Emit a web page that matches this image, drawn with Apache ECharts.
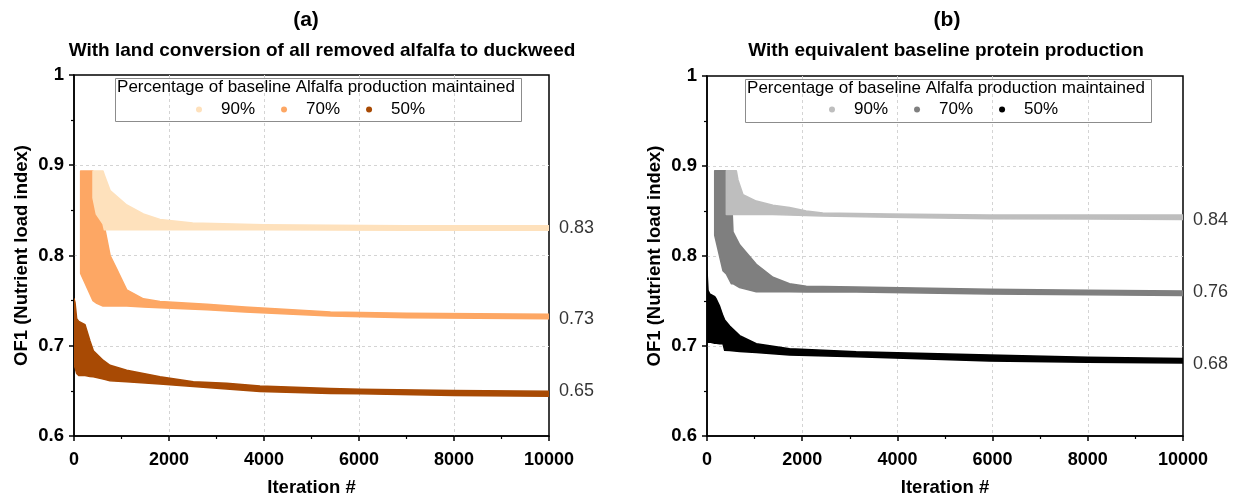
<!DOCTYPE html>
<html><head><meta charset="utf-8">
<script src="https://cdn.jsdelivr.net/npm/echarts@6/dist/echarts.min.js"></script>
<style>html,body{margin:0;padding:0;background:#fff}#c{width:1236px;height:502px}</style>
</head><body><div id="c"></div><script>
// ---------- data ----------
const legendLabels = ['90%', '70%', '50%'];
const xTickValues = [0, 2000, 4000, 6000, 8000, 10000];
const yTickValues = [0.6, 0.7, 0.8, 0.9, 1];

// Panel (a): band envelopes (iteration, upper, lower)
const itA90 = [400, 470, 610, 640, 760, 1110, 1460, 1810, 2500, 4000, 5400, 7000, 10000];
const hiA90 = [0.8935, 0.8935, 0.8935, 0.889, 0.872, 0.856, 0.846, 0.840, 0.836, 0.834, 0.8335, 0.833, 0.833];
const loA90 = [0.864, 0.846, 0.835, 0.8285, 0.8285, 0.8285, 0.8285, 0.8285, 0.8285, 0.8285, 0.8283, 0.828, 0.828];

const itA70 = [140, 400, 480, 610, 760, 900, 1110, 1460, 1810, 2800, 3600, 5400, 7000, 10000];
const hiA70 = [0.8935, 0.8935, 0.87, 0.84, 0.80, 0.785, 0.762, 0.752, 0.749, 0.746, 0.743, 0.7375, 0.736, 0.735];
const loA70 = [0.78, 0.75, 0.747, 0.744, 0.744, 0.744, 0.744, 0.743, 0.742, 0.740, 0.7375, 0.733, 0.731, 0.730];

const itA50 = [0, 21, 56, 100, 232, 337, 407, 617, 758, 1109, 1810, 2512, 3214, 3916, 5400, 6021, 8000, 10000];
const hiA50 = [0.752, 0.748, 0.730, 0.727, 0.7234, 0.7054, 0.6945, 0.6837, 0.6783, 0.6728, 0.6656, 0.6602, 0.6584, 0.6555, 0.6525, 0.6519, 0.6505, 0.6495];
const loA50 = [0.678, 0.676, 0.6692, 0.667, 0.667, 0.666, 0.6656, 0.663, 0.6613, 0.6602, 0.6577, 0.6548, 0.652, 0.6494, 0.647, 0.6469, 0.645, 0.644];

// Panel (b)
const itB90 = [406, 616, 651, 756, 1035, 1385, 1734, 2084, 2433, 3832, 5930, 8000, 10000];
const hiB90 = [0.8946, 0.8946, 0.8845, 0.868, 0.861, 0.8564, 0.854, 0.850, 0.8477, 0.8467, 0.8455, 0.8455, 0.8455];
const loB90 = [0.846, 0.846, 0.846, 0.846, 0.846, 0.846, 0.8455, 0.845, 0.8445, 0.843, 0.8415, 0.841, 0.8405];

const itB70 = [162, 336, 406, 511, 530, 546, 686, 1035, 1385, 1734, 2084, 3133, 5930, 8000, 10000];
const hiB70 = [0.8946, 0.8946, 0.8946, 0.8946, 0.8467, 0.8269, 0.8124, 0.7908, 0.7764, 0.7692, 0.7663, 0.7656, 0.763, 0.762, 0.761];
const loB70 = [0.823, 0.7836, 0.78, 0.7692, 0.7692, 0.7692, 0.765, 0.7602, 0.7602, 0.7602, 0.760, 0.760, 0.7577, 0.757, 0.756];

const itB50 = [0, 21, 56, 162, 196, 266, 336, 371, 476, 686, 1035, 1734, 3133, 5930, 8000, 10000];
const hiB50 = [0.7836, 0.762, 0.758, 0.7548, 0.752, 0.744, 0.7332, 0.729, 0.7223, 0.7115, 0.7025, 0.697, 0.6935, 0.690, 0.6875, 0.686];
const loB50 = [0.7115, 0.7043, 0.7043, 0.703, 0.703, 0.7025, 0.7025, 0.6953, 0.695, 0.694, 0.6928, 0.690, 0.688, 0.6834, 0.682, 0.681];

// final values written at the right of each panel
const finalA = [0.83, 0.73, 0.65];
const finalB = [0.84, 0.76, 0.68];

const colorsA = ['#FEE1BC', '#FDA764', '#A84A04'];
const colorsB = ['#BEBEBE', '#7F7F7F', '#000000'];

// ---------- chart ----------
const FONT = 'Liberation Sans, Arial, sans-serif';
const chart = echarts.init(document.getElementById('c'), null, {renderer: 'canvas'});

function band(name, g, color, it, hi, lo, z) {
  return {
    type: 'custom', name: name, xAxisIndex: g, yAxisIndex: g, z: z,
    clip: true, silent: true,
    itemStyle: {color: color},
    data: it.map((x, i) => [x, lo[i], hi[i]]),
    encode: {x: 0, y: [1, 2]},
    renderItem: function (params, api) {
      if (params.dataIndex !== 0) return null;
      const pts = [];
      for (let i = 0; i < it.length; i++) pts.push(api.coord([it[i], hi[i]]));
      for (let i = it.length - 1; i >= 0; i--) pts.push(api.coord([it[i], lo[i]]));
      return {
        type: 'polygon',
        shape: {points: pts},
        style: {fill: color, stroke: color, lineWidth: 1.5, lineJoin: 'round'}
      };
    }
  };
}

function endLabels(name, g, vals) {
  return {
    type: 'scatter', name: name, xAxisIndex: g, yAxisIndex: g, symbolSize: 0, silent: true, z: 10,
    data: vals.map(v => [xTickValues[xTickValues.length - 1], v]),
    label: {show: true, position: 'right', distance: 10, fontFamily: FONT, fontSize: 18, color: '#000',
      formatter: p => p.value[1].toFixed(2)}
  };
}

const gridsPos = [
  {left: 74, top: 75, width: 475, height: 369},
  {left: 707, top: 76, width: 476, height: 369}
];

const gridLineStyle = {color: '#d4d4d4', type: [3, 3], width: 1};

function xAx(g) {
  return {
    gridIndex: g, type: 'value', min: xTickValues[0], max: xTickValues[xTickValues.length - 1], interval: 2000,
    name: 'Iteration #', nameLocation: 'middle', nameGap: 42,
    nameTextStyle: {fontFamily: FONT, fontSize: 18.5, fontWeight: 'bold', color: '#000'},
    axisLine: {lineStyle: {color: '#000', width: 1.5}},
    axisTick: {show: true, length: 5, lineStyle: {color: '#000', width: 1.5}},
    minorTick: {show: true, splitNumber: 2, length: 3, lineStyle: {color: '#000', width: 1.2}},
    axisLabel: {fontFamily: FONT, fontSize: 18, fontWeight: 'bold', color: '#000', margin: 15,
      formatter: v => String(v)},
    splitLine: {show: true, showMinLine: false, showMaxLine: false, lineStyle: gridLineStyle}
  };
}
function yAx(g) {
  return {
    gridIndex: g, type: 'value', min: yTickValues[0], max: yTickValues[yTickValues.length - 1], interval: 0.1,
    name: 'OF1 (Nutrient load index)', nameLocation: 'middle', nameGap: 43,
    nameTextStyle: {fontFamily: FONT, fontSize: 18.5, fontWeight: 'bold', color: '#000'},
    axisLine: {show: true, lineStyle: {color: '#000', width: 1.5}},
    axisTick: {show: true, length: 5, lineStyle: {color: '#000', width: 1.5}},
    minorTick: {show: true, splitNumber: 2, length: 3, lineStyle: {color: '#000', width: 1.2}},
    axisLabel: {fontFamily: FONT, fontSize: 18.5, fontWeight: 'bold', color: '#000', margin: 10,
      formatter: v => String(Math.round(v * 10) / 10)},
    splitLine: {show: true, showMinLine: false, showMaxLine: false, lineStyle: gridLineStyle}
  };
}

function legendFor(prefix, left, colors) {
  return {
    left: left, top: 96, orient: 'horizontal', icon: 'circle', itemWidth: 6, itemHeight: 6, itemGap: 26,
    selectedMode: false,
    data: legendLabels.map((l, i) => ({name: prefix + l, itemStyle: {color: colors[i]}})),
    formatter: n => n.split(':')[1],
    textStyle: {fontFamily: FONT, fontSize: 17, color: '#000', padding: [0, 0, 0, 14]}
  };
}

const titleStyle = {fontFamily: FONT, fontWeight: 'bold', color: '#000'};
const legendTitleStyle = {fontFamily: FONT, fontSize: 17, fontWeight: 'normal', color: '#000'};

const option = {
  backgroundColor: '#fff',
  animation: false,
  title: [
    {text: '(a)', left: 306, top: 10, padding: 0, textAlign: 'center', textStyle: Object.assign({fontSize: 21}, titleStyle)},
    {text: 'With land conversion of all removed alfalfa to duckweed', left: 322, top: 41, padding: 0, textAlign: 'center',
      textStyle: Object.assign({fontSize: 19}, titleStyle)},
    {text: '(b)', left: 947, top: 10, padding: 0, textAlign: 'center', textStyle: Object.assign({fontSize: 21}, titleStyle)},
    {text: 'With equivalent baseline protein production', left: 946, top: 41, padding: 0, textAlign: 'center',
      textStyle: Object.assign({fontSize: 19}, titleStyle)},
    {text: 'Percentage of baseline Alfalfa production maintained', left: 316, top: 79, padding: 0, textAlign: 'center',
      textStyle: legendTitleStyle},
    {text: 'Percentage of baseline Alfalfa production maintained', left: 946, top: 80, padding: 0, textAlign: 'center',
      textStyle: legendTitleStyle}
  ],
  graphic: [
    {type: 'rect', left: 113, top: 76, shape: {width: 406, height: 43}, z: 1, silent: true,
      style: {fill: 'none', stroke: '#8c8c8c', lineWidth: 1}},
    {type: 'rect', left: 743, top: 77, shape: {width: 406, height: 43}, z: 1, silent: true,
      style: {fill: 'none', stroke: '#8c8c8c', lineWidth: 1}}
  ],
  legend: [legendFor('a:', 191, colorsA), legendFor('b:', 824, colorsB)],
  grid: gridsPos.map(p => Object.assign({show: true, borderColor: '#000', borderWidth: 1.5, containLabel: false}, p)),
  xAxis: [xAx(0), xAx(1)],
  yAxis: [yAx(0), yAx(1)],
  series: [
    band('a:90%', 0, colorsA[0], itA90, hiA90, loA90, 4),
    band('a:70%', 0, colorsA[1], itA70, hiA70, loA70, 3),
    band('a:50%', 0, colorsA[2], itA50, hiA50, loA50, 2),
    band('b:90%', 1, colorsB[0], itB90, hiB90, loB90, 4),
    band('b:70%', 1, colorsB[1], itB70, hiB70, loB70, 3),
    band('b:50%', 1, colorsB[2], itB50, hiB50, loB50, 2),
    endLabels('endA', 0, finalA),
    endLabels('endB', 1, finalB)
  ]
};
chart.setOption(option);
</script></body></html>
